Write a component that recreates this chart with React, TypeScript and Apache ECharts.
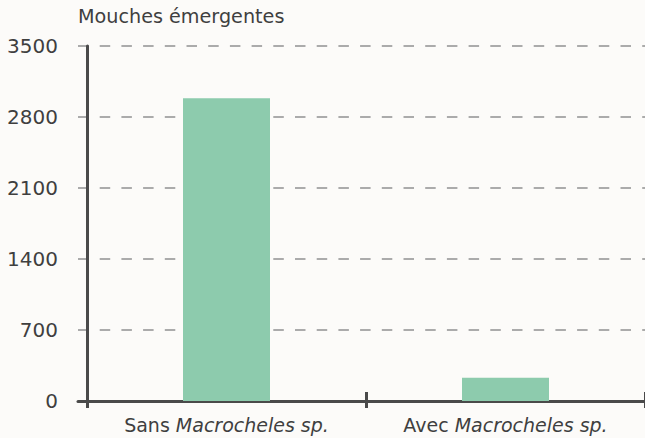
import React, { useEffect, useRef } from "react";
import * as echarts from "echarts";

const categories = ["Sans Macrocheles sp.", "Avec Macrocheles sp."];
const flies = [2985, 230];
const yMin = 0;
const yMax = 3500;
const yInterval = 700;
const yTitle = "Mouches émergentes";

const TEXT = "#3f3f3f";
const AXIS = "#4a4a4a";
const GRIDLINE = "#ababab";
const BAR = "#8dcbad";
const BG = "#fcfbf9";
const FONT = "'DejaVu Sans', sans-serif";

export default function App() {
  const ref = useRef<HTMLDivElement>(null);
  useEffect(() => {
    if (!ref.current) return;
    const chart = echarts.init(ref.current, undefined, { renderer: "svg" });
    const gridBox = { top: 46, bottom: 37, right: -3 };
    chart.setOption({
      animation: false,
      backgroundColor: BG,
      textStyle: { fontFamily: FONT },
      title: {
        text: yTitle,
        left: 78,
        top: 7,
        padding: 0,
        textStyle: { fontFamily: FONT, fontSize: 19.2, fontWeight: "normal", color: TEXT },
      },
      grid: [
        { ...gridBox, left: 78 },
        { ...gridBox, left: 87 },
      ],
      xAxis: [
        {
          gridIndex: 0,
          type: "category",
          data: categories,
          position: "bottom",
          axisLine: { show: true, lineStyle: { color: AXIS, width: 3 } },
          axisTick: { show: false },
          axisLabel: { show: false },
          splitLine: { show: false },
        },
        {
          gridIndex: 1,
          type: "category",
          data: categories,
          position: "bottom",
          axisLine: { show: true, lineStyle: { color: AXIS, width: 3 } },
          axisTick: { show: true, length: 7, lineStyle: { color: AXIS, width: 3 } },
          axisLabel: {
            margin: 14,
            formatter: (v: string) => {
              const i = v.indexOf(" ");
              return `{n|${v.slice(0, i)} }{i|${v.slice(i + 1)}}`;
            },
            rich: {
              n: { fontFamily: FONT, fontSize: 19, color: TEXT },
              i: { fontFamily: FONT, fontSize: 19, color: TEXT, fontStyle: "italic" },
            },
          },
        },
        {
          gridIndex: 1,
          type: "category",
          data: categories,
          position: "bottom",
          axisLine: { show: false },
          axisTick: { show: true, inside: true, length: 9, lineStyle: { color: AXIS, width: 3 } },
          axisLabel: { show: false },
        },
      ],
      yAxis: [
        {
          gridIndex: 0,
          type: "value",
          min: yMin,
          max: yMax,
          interval: yInterval,
          axisLine: { show: false },
          axisTick: { show: false },
          axisLabel: {
            margin: 20,
            fontFamily: FONT,
            fontSize: 20,
            color: TEXT,
            formatter: (v: number) => String(v),
          },
          splitLine: {
            show: true,
            lineStyle: { color: GRIDLINE, width: 2, type: [10.5, 11.2] },
          },
        },
        {
          gridIndex: 1,
          type: "value",
          min: yMin,
          max: yMax,
          interval: yInterval,
          axisLine: { show: true, lineStyle: { color: AXIS, width: 3 } },
          axisTick: { show: false },
          axisLabel: { show: false },
          splitLine: { show: false },
        },
      ],
      series: [
        {
          type: "bar",
          xAxisIndex: 1,
          yAxisIndex: 1,
          data: flies,
          barWidth: 87,
          itemStyle: { color: BAR },
        },
      ],
    });
    return () => chart.dispose();
  }, []);
  return (
    <div
      ref={ref}
      style={{ position: "fixed", left: 0, top: 0, width: 645, height: 438, background: BG }}
    />
  );
}
